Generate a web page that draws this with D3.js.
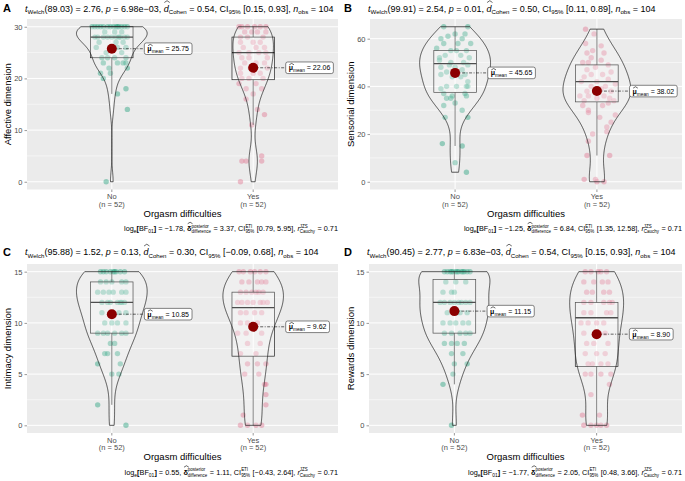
<!DOCTYPE html>
<html lang="en">
<head>
<meta charset="utf-8">
<title>Orgasm difficulties by dimension</title>
<script src="https://d3js.org/d3.v7.min.js"></script>
<style>
  body { margin: 0; background: #fff; }
  svg text { font-family: "Liberation Sans", Arial, sans-serif; white-space: pre; }
</style>
</head>
<body>
<svg id="chart" width="685" height="481"></svg>
<script>
// ---- data ----
const panelTags = ["A", "B", "C", "D"];
const yTitles = ["Affective dimension", "Sensorial dimension", "Intimacy dimension", "Rewards dimension"];
const groups = ["No", "Yes"];
const groupN = [52, 52];
const xTitle = "Orgasm difficulties";
const yTickSets = [[0, 10, 20, 30], [0, 20, 40, 60], [0, 5, 10, 15], [0, 5, 10, 15]];
const yMinorSets = [[5, 15, 25], [10, 30, 50], [2.5, 7.5, 12.5], [2.5, 7.5, 12.5]];

const meanNo = [25.75, 45.65, 10.85, 11.15];
const meanYes = [22.06, 38.02, 9.62, 8.90];
// [lower whisker, q1, median, q3, upper whisker]
const boxNo = [[17, 24, 28, 30, 30], [15, 37.5, 49.5, 55, 65], [2, 9, 12, 14, 15], [4, 9, 12, 14.25, 15]];
const boxYes = [[11, 19.75, 25, 28, 30], [11, 33.5, 42, 49, 64], [0, 6.75, 11.5, 13, 15], [0, 5.75, 10.5, 12, 15]];

const welchDf = ["89.03", "99.91", "95.88", "90.45"];
const welchT = ["2.76", "2.54", "1.52", "2.77"];
const pValues = ["6.98e\u221203", "0.01", "0.13", "6.83e\u221203"];
const cohenD = ["0.54", "0.50", "0.30", "0.54"];
const cohenCI = ["[0.15, 0.93]", "[0.11, 0.89]", "[\u22120.09, 0.68]", "[0.15, 0.93]"];
const logBF = ["\u22121.78", "\u22121.25", "0.55", "\u22121.77"];
const deltaPost = ["3.37", "6.84", "1.11", "2.05"];
const deltaCI = ["[0.79, 5.95]", "[1.35, 12.58]", "[\u22120.43, 2.64]", "[0.48, 3.66]"];
const rCauchy = ["0.71", "0.71", "0.71", "0.71"];

// points: [score, horizontal jitter in category units]
const affectiveNo = [[30,-0.14],[30,-0.12],[30,-0.10],[30,-0.08],[30,-0.06],[30,-0.03],[30,-0.01],[30,0.01],[30,0.03],[30,0.05],[30,0.07],[30,0.09],[30,0.11],[30,0.04],
  [29,-0.05],[29,0.07],[29,0.02],
  [28,-0.10],[28,-0.06],[28,-0.03],[28,0.0],[28,0.03],[28,0.06],[28,0.09],[28,-0.12],[28,0.11],[28,0.05],
  [27,0.08],[27,-0.09],[27,0.03],[26,-0.11],[26,0.04],[26,0.10],[25,-0.04],[25,0.07],
  [24,-0.07],[24,-0.03],[24,0.02],[24,0.10],[23,0.04],[23,0.10],[23,-0.06],[23,0.08],
  [22,-0.02],[22,0.11],[21,-0.08],[21,-0.01],[20,-0.06],[18,0.10],[17,0.04],[14,0.11],[0,-0.04]];
const affectiveYes = [[30,-0.08],[30,-0.04],[30,0.01],[30,0.05],[30,0.09],[30,-0.10],
  [29,-0.06],[29,0.03],[29,0.09],[29,-0.01],[28,-0.04],[28,0.07],[28,-0.09],
  [27,-0.09],[27,0.0],[27,0.05],[26,-0.07],[26,0.02],[26,0.08],
  [25,-0.10],[25,-0.03],[25,0.04],[25,0.09],[24,-0.03],[24,0.10],[24,-0.08],
  [23,-0.06],[23,0.02],[23,0.08],[22,-0.02],[22,0.10],[22,-0.09],[21,-0.09],[21,0.05],[21,0.0],
  [20,-0.03],[20,0.07],[20,-0.08],[19,-0.10],[19,0.02],[18,0.06],[18,-0.05],[17,0.0],[16,-0.05],[14,0.03],[13,0.08],[11,-0.01],
  [5,0.06],[4,-0.08],[4,-0.05],[4,0.06],[0,-0.09]];
const sensorialNo = [[65,-0.08],[65,0.09],[62,0.0],[62,0.07],[61,-0.05],[60,-0.10],[60,0.05],[58,-0.08],[58,0.02],[58,0.11],
  [56,-0.13],[55,-0.03],[55,0.01],[55,0.08],[53,-0.07],[53,0.04],[52,-0.11],[52,0.10],[51,-0.11],[50,-0.03],[50,0.06],
  [49,-0.04],[49,0.09],[48,0.0],[48,-0.10],[47,0.05],[46,-0.06],[45,-0.10],[45,0.07],[44,0.04],[44,-0.02],[42,0.09],
  [40,-0.06],[40,0.01],[40,0.09],[40,0.08],[39,-0.10],[37,-0.08],[37,0.07],[36,-0.02],[36,0.08],[35,-0.03],[35,-0.06],
  [33,0.0],[32,-0.08],[30,0.05],[27,-0.07],[27,0.09],[16,-0.09],[15,0.05],[8,0.0],[4,0.08]];
const sensorialYes = [[64,-0.08],[62,-0.02],[58,-0.08],[57,0.03],[55,-0.03],[54,-0.07],[54,0.05],[52,-0.04],[51,0.03],
  [50,-0.10],[50,-0.06],[49,0.08],[48,-0.01],[47,-0.07],[46,0.10],[45,-0.04],[45,0.04],[44,-0.09],[43,0.08],
  [42,-0.11],[42,0.0],[41,0.13],[40,-0.04],[40,0.06],[39,0.03],[38,-0.07],[38,0.10],[36,-0.12],[36,-0.06],[36,0.05],
  [35,0.0],[35,0.09],[34,0.12],[34,-0.09],[33,0.08],[32,-0.10],[32,0.04],[30,-0.06],[29,-0.06],[28,0.13],[27,0.02],
  [25,0.10],[23,0.07],[21,0.07],[20,-0.03],[17,-0.06],[11,-0.07],[11,0.09],[1,-0.09],[1,-0.01],[0,0.05],[0,0.0]];
const intimacyNo = [[15,-0.08],[15,-0.04],[15,-0.01],[15,0.01],[15,0.03],[15,0.06],[15,0.09],[15,-0.06],[15,0.02],
  [14,-0.08],[14,-0.04],[14,0.0],[14,0.07],[14,0.10],[13,-0.10],[13,-0.06],[13,-0.02],[13,0.01],[13,0.07],[13,0.10],
  [12,-0.07],[12,-0.01],[12,0.04],[12,0.07],[12,0.09],[12,-0.03],[12,0.06],[11,-0.07],[11,0.0],[11,0.05],[11,0.10],
  [10,0.0],[10,0.04],[10,0.10],[10,-0.05],[9,-0.10],[9,-0.03],[9,0.07],[9,0.10],[9,0.02],[9,-0.06],
  [8,0.02],[8,-0.01],[7,-0.03],[7,0.04],[7,-0.05],[6,-0.10],[6,0.06],[5,0.0],[5,0.05],[2,-0.10],[0,0.10]];
const intimacyYes = [[15,-0.07],[15,0.01],[15,0.09],[15,-0.02],[15,0.05],[15,-0.10],
  [14,-0.03],[14,0.09],[14,-0.08],[14,0.03],[14,0.06],
  [13,-0.05],[13,0.02],[13,0.04],[13,-0.09],[13,0.07],[13,-0.01],
  [12,-0.11],[12,-0.04],[12,0.05],[12,0.10],[12,-0.08],[12,0.0],[12,0.07],
  [11,-0.09],[11,0.01],[11,-0.05],[11,0.06],[10,-0.04],[10,0.03],[10,-0.09],[9,-0.05],[9,-0.11],[9,0.06],
  [8,-0.04],[8,0.05],[7,-0.09],[7,0.02],[6,-0.04],[6,0.03],[6,0.09],[5,-0.06],[5,0.04],
  [4,0.09],[4,0.08],[3,0.09],[2,0.09],[1,-0.07],[0,-0.09],[0,-0.04],[0,0.06],[0,0.02]];
const rewardsNo = [[15,-0.07],[15,-0.05],[15,-0.03],[15,-0.01],[15,0.01],[15,0.03],[15,0.05],[15,0.07],[15,0.09],[15,0.11],[15,0.02],[15,0.06],[15,-0.02],
  [14,0.01],[14,-0.06],[14,0.08],[13,-0.02],[13,0.0],[13,-0.08],
  [12,-0.07],[12,0.0],[12,0.08],[12,-0.03],[12,0.05],[12,0.11],[12,-0.10],[12,0.03],
  [11,0.04],[11,0.09],[11,-0.05],[11,0.02],[10,-0.03],[10,0.06],[10,-0.08],[10,0.10],[10,0.01],
  [9,-0.02],[9,0.04],[9,0.08],[9,-0.07],[9,0.11],[8,-0.07],[8,0.02],[8,0.07],[8,-0.02],
  [7,-0.02],[7,0.06],[6,0.09],[6,0.0],[5,-0.01],[4,-0.08],[0,-0.02]];
const rewardsYes = [[15,-0.04],[15,0.01],[15,0.03],[15,-0.08],[15,0.07],
  [14,-0.09],[14,-0.02],[14,0.04],[14,0.08],
  [13,-0.03],[13,0.09],[13,-0.07],[13,0.05],
  [12,-0.09],[12,-0.04],[12,0.05],[12,0.09],[12,0.11],
  [11,-0.04],[11,0.07],[11,-0.09],[11,0.10],
  [10,-0.11],[10,0.05],[10,0.0],[10,-0.06],[9,-0.09],[9,0.06],[9,0.02],[8,-0.02],[8,0.08],[8,-0.07],
  [7,-0.08],[7,0.06],[7,0.0],[6,-0.03],[6,0.03],[6,0.08],[6,-0.06],[5,-0.08],[5,-0.04],[5,0.03],[5,0.10],
  [4,0.09],[3,-0.04],[1,-0.10],[1,0.02],[0,-0.09],[0,-0.04],[0,0.03],[0,0.07],[0,0.0]];

const pointsNo = [affectiveNo, sensorialNo, intimacyNo, rewardsNo];
const pointsYes = [affectiveYes, sensorialYes, intimacyYes, rewardsYes];

// ---- layout ----
const frames = [
  { tagX: 3, left: 27, right: 338, top: 19, bottom: 189.5, titleY: 11.5, ytX: 8 },
  { tagX: 344, left: 370, right: 682, top: 19, bottom: 189.5, titleY: 11.5, ytX: 351 },
  { tagX: 3, left: 27, right: 338, top: 264, bottom: 433, titleY: 255, ytX: 8 },
  { tagX: 344, left: 369, right: 682, top: 264, bottom: 433, titleY: 255, ytX: 351 }
];
const groupColors = ["#1B9E77", "#E0708C"];
const ink = "#222";

const svg = d3.select("#chart");

// lays out a run of plain / italic / sub / stacked pieces, returns the width
function rich(g, x, y, segs, size, anchor) {
  const wrap = g.append("g");
  const small = size * 0.68;
  let cx = 0;
  segs.forEach(([txt, kind, extra]) => {
    if (kind === "stack") {
      const up = wrap.append("text").attr("x", cx).attr("y", -size * 0.42).attr("font-size", small * 0.9).text(txt);
      const dn = wrap.append("text").attr("x", cx).attr("y", size * 0.3).attr("font-size", small * 0.9).text(extra);
      cx += Math.max(up.node().getComputedTextLength(), dn.node().getComputedTextLength()) + 0.5;
      return;
    }
    const el = wrap.append("text").attr("x", cx)
      .attr("y", kind === "sub" ? size * 0.28 : 0)
      .attr("font-size", kind === "sub" ? small : size)
      .attr("font-style", (kind === "i" || kind === "hat") ? "italic" : null)
      .attr("font-weight", (kind === "b" || kind === "bhat") ? "bold" : null)
      .text(txt);
    const w = el.node().getComputedTextLength();
    if (kind === "hat" || kind === "bhat") {
      const h = extra || 0.95;
      wrap.append("path")
        .attr("d", `M${cx + 0.6},${-size * h} L${cx + w / 2 + 0.8},${-size * (h + 0.2)} L${cx + w + 1},${-size * h}`)
        .attr("fill", "none").attr("stroke", "#000").attr("stroke-width", 0.6);
    }
    cx += w;
  });
  wrap.attr("transform", `translate(${anchor === "end" ? x - cx : x},${y})`);
  return cx;
}

function gaussKde(values, steps) {
  const n = values.length;
  const sorted = values.slice().sort(d3.ascending);
  const iqr = d3.quantile(sorted, 0.75) - d3.quantile(sorted, 0.25);
  const bw = 0.9 * Math.min(d3.deviation(values), iqr / 1.34) * Math.pow(n, -0.2);
  const lo = sorted[0], hi = sorted[n - 1];
  return d3.range(steps + 1).map(i => {
    const y = lo + (hi - lo) * i / steps;
    const d = d3.mean(values, v => Math.exp(-0.5 * ((y - v) / bw) ** 2)) / (bw * Math.sqrt(2 * Math.PI));
    return [y, d];
  });
}

panelTags.forEach((tag, i) => {
  const f = frames[i];
  const g = svg.append("g");
  const pts = [pointsNo[i], pointsYes[i]];
  const allVals = pts.flat().map(d => d[0]);
  const [lo, hi] = d3.extent(allVals);
  const pad = (hi - lo) * 0.05;

  const x = d3.scaleLinear().domain([0.4, 2.6]).range([f.left, f.right]);
  const y = d3.scaleLinear().domain([lo - pad, hi + pad]).range([f.bottom, f.top]);
  const unit = x(1) - x(0);

  // panel background + grid
  g.append("rect").attr("x", f.left).attr("y", f.top)
    .attr("width", f.right - f.left).attr("height", f.bottom - f.top).attr("fill", "#EBEBEB");
  g.selectAll(".minor").data(yMinorSets[i]).join("line")
    .attr("x1", f.left).attr("x2", f.right).attr("y1", d => y(d)).attr("y2", d => y(d))
    .attr("stroke", "#fff").attr("stroke-width", 0.5);
  g.selectAll(".major").data(yTickSets[i]).join("line")
    .attr("x1", f.left).attr("x2", f.right).attr("y1", d => y(d)).attr("y2", d => y(d))
    .attr("stroke", "#fff").attr("stroke-width", 1);
  g.selectAll(".vmajor").data([1, 2]).join("line")
    .attr("x1", d => x(d)).attr("x2", d => x(d)).attr("y1", f.top).attr("y2", f.bottom)
    .attr("stroke", "#fff").attr("stroke-width", 1);

  // y axis
  const yAx = g.append("g").attr("transform", `translate(${f.left},0)`)
    .call(d3.axisLeft(y).tickValues(yTickSets[i]).tickSize(2.5).tickPadding(2));
  yAx.select(".domain").remove();
  yAx.selectAll("line").attr("stroke", "#333").attr("stroke-width", 0.5);
  yAx.selectAll("text").attr("font-size", 7.5).attr("fill", "#4D4D4D")
    .attr("font-family", "Liberation Sans, Arial, sans-serif");

  // x axis ticks and labels
  groups.forEach((grp, k) => {
    const cx = x(k + 1);
    g.append("line").attr("x1", cx).attr("x2", cx).attr("y1", f.bottom).attr("y2", f.bottom + 2.5)
      .attr("stroke", "#333").attr("stroke-width", 0.5);
    g.append("text").attr("x", cx).attr("y", f.bottom + 9.5).attr("text-anchor", "middle")
      .attr("font-size", 7.5).attr("fill", "#4D4D4D").text(grp);
    g.append("text").attr("x", cx).attr("y", f.bottom + 17).attr("text-anchor", "middle")
      .attr("font-size", 7.5).attr("fill", "#4D4D4D").text(`(n = ${groupN[k]})`);
  });
  g.append("text").attr("x", (f.left + f.right) / 2).attr("y", f.bottom + 27)
    .attr("text-anchor", "middle").attr("font-size", 9.5).text(xTitle);
  g.append("text").attr("transform", `translate(${f.ytX},${(f.top + f.bottom) / 2}) rotate(-90)`)
    .attr("text-anchor", "middle").attr("dy", "0.35em").attr("font-size", 9.5).text(yTitles[i]);

  // tag letter
  g.append("text").attr("x", f.tagX).attr("y", f.titleY + 0.5).attr("font-size", 11)
    .attr("font-weight", "bold").text(tag);

  // jittered points
  pts.forEach((arr, k) => {
    g.append("g").selectAll("circle").data(arr).join("circle")
      .attr("cx", d => x(k + 1 + d[1])).attr("cy", d => y(d[0])).attr("r", 2.7)
      .attr("fill", groupColors[k]).attr("fill-opacity", 0.42);
  });

  // boxplots
  const boxes = [boxNo[i], boxYes[i]];
  boxes.forEach((b, k) => {
    const cx = x(k + 1), hw = unit * 0.15;
    g.append("line").attr("x1", cx).attr("x2", cx).attr("y1", y(b[3])).attr("y2", y(b[4]))
      .attr("stroke", ink).attr("stroke-width", 0.7);
    g.append("line").attr("x1", cx).attr("x2", cx).attr("y1", y(b[1])).attr("y2", y(b[0]))
      .attr("stroke", ink).attr("stroke-width", 0.7);
    g.append("rect").attr("x", cx - hw).attr("width", hw * 2)
      .attr("y", y(b[3])).attr("height", y(b[1]) - y(b[3]))
      .attr("fill", "#fff").attr("fill-opacity", 0.2).attr("stroke", ink).attr("stroke-width", 0.7);
    g.append("line").attr("x1", cx - hw).attr("x2", cx + hw).attr("y1", y(b[2])).attr("y2", y(b[2]))
      .attr("stroke", ink).attr("stroke-width", 1.3);
  });

  // violins (equal area scaling, max width 0.5)
  const dens = pts.map(arr => gaussKde(arr.map(d => d[0]), 200));
  const maxD = d3.max(dens.flat(), d => d[1]);
  dens.forEach((dd, k) => {
    const cx = x(k + 1);
    const area = d3.area().curve(d3.curveLinear)
      .y(d => y(d[0]))
      .x0(d => cx - unit * 0.25 * d[1] / maxD)
      .x1(d => cx + unit * 0.25 * d[1] / maxD);
    g.append("path").datum(dd).attr("d", area)
      .attr("fill", "#fff").attr("fill-opacity", 0.2).attr("stroke", ink).attr("stroke-width", 0.75);
  });

  // mean points with labels
  const means = [meanNo[i], meanYes[i]];
  means.forEach((m, k) => {
    const cx = x(k + 1), cy = y(m);
    const lx = cx + unit * 0.23;
    const lab = g.append("g");
    const w = rich(lab, lx + 3, cy + 2.5, [["\u03bc", "bhat", 0.78], ["mean", "sub"], [" = " + m.toFixed(2), "n"]], 7);
    lab.insert("rect", ":first-child").attr("x", lx).attr("y", cy - 5.8)
      .attr("width", w + 6).attr("height", 11.6).attr("rx", 2)
      .attr("fill", "#fff").attr("stroke", "#333").attr("stroke-width", 0.6);
    g.insert("line", () => lab.node()).attr("x1", cx).attr("x2", lx).attr("y1", cy).attr("y2", cy)
      .attr("stroke", "#000").attr("stroke-width", 0.6).attr("stroke-dasharray", "3,1.5,1,1.5");
    g.append("circle").attr("cx", cx).attr("cy", cy).attr("r", 5).attr("fill", "#8B0000");
  });

  // subtitle with Welch test
  rich(g, f.left - 2, f.titleY, [
    ["t", "i"], ["Welch", "sub"], [`(${welchDf[i]}) = ${welchT[i]}, `, "n"],
    ["p", "i"], [` = ${pValues[i]}, `, "n"],
    ["d", "hat", 1.0], ["Cohen", "sub"], [` = ${cohenD[i]}, CI`, "n"], ["95%", "sub"],
    [` ${cohenCI[i]}, `, "n"], ["n", "i"], ["obs", "sub"], [` = ${groupN[0] + groupN[1]}`, "n"]
  ], 9.0);

  // Bayesian caption
  rich(g, f.right, f.bottom + 41.5, [
    ["log", "n"], ["e", "sub"], ["[", "b"], ["BF", "n"], ["01", "sub"], ["]", "b"],
    [` = ${logBF[i]}, `, "n"], ["\u03b4", "bhat", 1.0], ["posterior", "stack", "difference"],
    [` = ${deltaPost[i]}, CI`, "n"], ["ETI", "stack", "95%"], [` ${deltaCI[i]}, `, "n"],
    ["r", "i"], ["JZS", "stack", "Cauchy"], [` = ${rCauchy[i]}`, "n"]
  ], 7.3, "end");
});
</script>
</body>
</html>
